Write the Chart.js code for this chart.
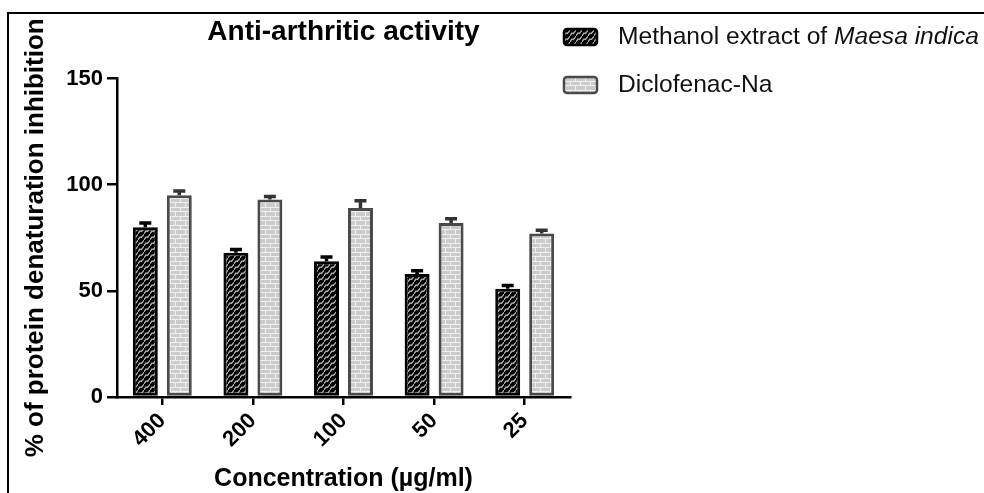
<!DOCTYPE html>
<html>
<head>
<meta charset="utf-8">
<script src="https://cdn.jsdelivr.net/npm/chart.js@4.4.1/dist/chart.umd.min.js"></script>
<style>
  html, body { margin: 0; padding: 0; background: #fff; }
  #wrap { width: 984px; height: 493px; position: relative; }
</style>
</head>
<body>
<div id="wrap"><canvas id="chart"></canvas></div>
<script>
const concentrations = ['400', '200', '100', '50', '25'];
const methanolMean = [80, 68, 64, 58, 51];
const methanolErr = [2, 1.5, 2, 1.5, 1.5];
const diclofenacMean = [95, 93, 89, 82, 77];
const diclofenacErr = [2, 1.5, 3.5, 2, 1.5];
const yTicks = [0, 50, 100, 150];

const FONT = '"Liberation Sans", Arial, Helvetica, sans-serif';

// fill patterns like the GraphPad ones
function zigzagPattern() {
  const c = document.createElement('canvas');
  c.width = 6; c.height = 6;
  const g = c.getContext('2d');
  g.fillStyle = '#000';
  g.fillRect(0, 0, 6, 6);
  g.strokeStyle = '#b4b4b4';
  g.lineWidth = 1.3;
  g.beginPath();
  g.moveTo(-1, 7); g.lineTo(2, 3); g.lineTo(3.5, 3.5); g.lineTo(7, -1);
  g.stroke();
  return g.createPattern(c, 'repeat');
}

function brickPattern() {
  const c = document.createElement('canvas');
  c.width = 10; c.height = 9;
  const g = c.getContext('2d');
  g.fillStyle = '#cbcbcb';
  g.fillRect(0, 0, 10, 9);
  g.strokeStyle = '#efefef';
  g.lineWidth = 1;
  g.beginPath();
  g.moveTo(0, 0.5); g.lineTo(10, 0.5);
  g.moveTo(0, 4.5); g.lineTo(10, 4.5);
  g.moveTo(0.5, 0); g.lineTo(0.5, 4.5);
  g.moveTo(5.5, 4.5); g.lineTo(5.5, 9);
  g.stroke();
  return g.createPattern(c, 'repeat');
}

const blackFill = zigzagPattern();
const grayFill = brickPattern();

const errorBars = {
  id: 'errorBars',
  afterDatasetsDraw(chart) {
    const ctx = chart.ctx;
    const y = chart.scales.y;
    chart.data.datasets.forEach((ds, i) => {
      const meta = chart.getDatasetMeta(i);
      ctx.save();
      ctx.strokeStyle = ds.errColor;
      ctx.lineWidth = 3.5;
      meta.data.forEach((bar, j) => {
        const top = y.getPixelForValue(ds.data[j] + ds.errors[j]);
        ctx.beginPath();
        ctx.moveTo(bar.x, bar.y);
        ctx.lineTo(bar.x, top);
        ctx.moveTo(bar.x - 6, top);
        ctx.lineTo(bar.x + 6, top);
        ctx.stroke();
      });
      ctx.restore();
    });
  }
};

const sideLegend = {
  id: 'sideLegend',
  afterDraw(chart) {
    const ctx = chart.ctx;
    const rows = [
      { fill: blackFill, border: '#000', parts: [['Methanol extract of ', ''], ['Maesa indica', 'italic ']], y: 37 },
      { fill: grayFill, border: '#4a4a4a', parts: [['Diclofenac-Na', '']], y: 85 }
    ];
    ctx.save();
    rows.forEach(r => {
      ctx.fillStyle = r.fill;
      ctx.strokeStyle = r.border;
      ctx.lineWidth = 2.5;
      ctx.beginPath();
      ctx.roundRect(564, r.y - 8, 33, 16, 3);
      ctx.fill();
      ctx.stroke();
      let x = 618;
      ctx.fillStyle = '#111';
      ctx.textBaseline = 'middle';
      r.parts.forEach(([txt, style]) => {
        ctx.font = style + '24.6px ' + FONT;
        ctx.fillText(txt, x, r.y);
        x += ctx.measureText(txt).width;
      });
    });
    // frame of the figure
    ctx.strokeStyle = '#000';
    ctx.lineWidth = 2;
    ctx.beginPath();
    ctx.moveTo(8, 493); ctx.lineTo(8, 13); ctx.lineTo(984, 13);
    ctx.stroke();
    ctx.restore();
  }
};

new Chart(document.getElementById('chart'), {
  type: 'bar',
  data: {
    labels: concentrations,
    datasets: [
      {
        label: 'Methanol extract of Maesa indica',
        data: methanolMean,
        errors: methanolErr,
        errColor: '#000',
        backgroundColor: blackFill,
        borderColor: '#000',
        borderWidth: 3,
        borderSkipped: false
      },
      {
        label: 'Diclofenac-Na',
        data: diclofenacMean,
        errors: diclofenacErr,
        errColor: '#333',
        backgroundColor: grayFill,
        borderColor: '#4a4a4a',
        borderWidth: 3,
        borderSkipped: false
      }
    ]
  },
  options: {
    responsive: true,
    maintainAspectRatio: false,
    animation: false,
    layout: { padding: { left: 0, right: 414, top: 0, bottom: 0 } },
    categoryPercentage: 0.75,
    barPercentage: 0.735,
    scales: {
      x: {
        offset: true,
        afterFit: s => { s.height = 96; },
        grid: { offset: false, drawOnChartArea: false, drawTicks: true, tickLength: 8, color: '#000', lineWidth: 2.5 },
        border: { display: true, color: '#000', width: 2.5 },
        ticks: { color: '#000', font: { family: FONT, size: 22, weight: 'bold' }, minRotation: 45, maxRotation: 45, padding: 3 },
        title: { display: true, text: 'Concentration (µg/ml)', color: '#000', font: { family: FONT, size: 25, weight: 'bold' }, padding: { top: 0, bottom: -1 } }
      },
      y: {
        min: 0,
        max: 150,
        afterFit: s => { s.width = 117; },
        afterBuildTicks: s => { s.ticks = yTicks.map(v => ({ value: v })); },
        grid: { drawOnChartArea: false, drawTicks: true, tickLength: 10, color: '#000', lineWidth: 2.5 },
        border: { display: true, color: '#000', width: 2.5 },
        ticks: { color: '#000', font: { family: FONT, size: 22, weight: 'bold' }, padding: 4 },
        title: { display: true, text: '% of protein denaturation inhibition', color: '#000', font: { family: FONT, size: 26, weight: 'bold' }, padding: { top: 20, bottom: 0 } }
      }
    },
    plugins: {
      legend: { display: false },
      tooltip: { enabled: false },
      title: {
        display: true,
        fullSize: false,
        text: 'Anti-arthritic activity',
        color: '#000',
        font: { family: FONT, size: 28, weight: 'bold' },
        padding: { top: 15, bottom: 30 }
      }
    }
  },
  plugins: [errorBars, sideLegend]
});
</script>
</body>
</html>
